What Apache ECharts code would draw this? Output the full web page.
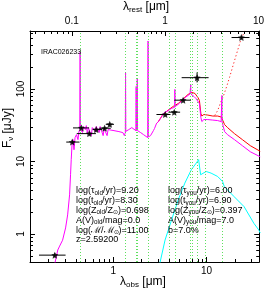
<!DOCTYPE html>
<html><head><meta charset="utf-8">
<script src="https://cdn.jsdelivr.net/npm/echarts@6/dist/echarts.min.js"></script>
<style>html,body{margin:0;padding:0;background:#fff}#c{width:267px;height:290px}</style>
</head><body><div id="c"></div>
<script>
// ---------- data ----------
const redshift = 2.592;
const obsRange = [0.128, 36.6];     // observed wavelength axis (micron)
const fluxRange = [0.41, 630];      // F_nu axis (microJy)
const obsMinorTicks = [0.2,0.3,0.4,0.5,0.6,0.7,0.8,0.9,2,3,4,5,6,7,8,9,20,30];
const restMinorTicks = [0.04,0.05,0.06,0.07,0.08,0.09,0.2,0.3,0.4,0.5,0.6,0.7,0.8,0.9,2,3,4,5,6,7,8,9];
const fluxMinorTicks = [0.5,0.6,0.7,0.8,0.9,2,3,4,5,6,7,8,9,20,30,40,50,60,70,80,90,200,300,400,500,600];

// emission-line markers (observed micron)
const lineMarkers = [0.441,1.353,1.76,1.81,2.358,3.953,4.571,6.755,7.06,7.87,9.57,14.59];

// old stellar population (magenta) [lambda_obs, F_nu]
const oldPopulation = [[0.233,0.36],[0.254,0.60],[0.266,0.68],[0.286,0.82],[0.308,1.21],[0.324,1.83],[0.340,3.46],[0.348,6.55],[0.354,10.6],[0.361,17.0],[0.370,20.0],[0.379,14.5],[0.389,21.3],[0.403,23.4],[0.418,20.0],[0.428,25.8],[0.438,27.5],[0.441,320],[0.443,28.0],[0.455,29.3],[0.467,25.0],[0.478,30.3],[0.502,27.5],[0.514,31.2],[0.527,24.2],[0.540,29.3],[0.567,30.3],[0.581,22.7],[0.595,29.3],[0.625,31.2],[0.640,25.8],[0.656,30.3],[0.689,29.3],[0.706,25.0],[0.723,30.3],[0.759,29.3],[0.778,22.7],[0.797,28.3],[0.837,27.5],[0.858,22.7],[0.879,27.5],[0.923,26.6],[1.017,26.6],[1.149,25.8],[1.266,25.0],[1.314,22.7],[1.345,25.0],[1.353,169],[1.362,26.0],[1.379,26.6],[1.466,27.5],[1.577,29.3],[1.656,27.5],[1.745,26.6],[1.758,108],[1.770,26.6],[1.798,26.6],[1.808,140],[1.820,26.6],[1.848,26.6],[1.963,25.0],[2.112,23.4],[2.218,22.7],[2.338,21.3],[2.358,459],[2.372,21.8],[2.415,22.0],[2.506,22.7],[2.689,26.6],[2.763,28.4],[2.900,33.3],[3.045,35.5],[3.198,39.0],[3.357,42.9],[3.524,47.3],[3.70,48.8],[3.88,50.4],[3.95,52.0],[4.18,53.7],[4.39,54.9],[4.55,56.0],[4.57,98.5],[4.60,57.0],[4.72,59.0],[5.08,62.9],[5.47,69.3],[5.88,76.2],[6.32,81.3],[6.64,85.3],[6.74,85.0],[6.755,115],[6.78,85.0],[6.97,84.0],[7.32,78.7],[7.69,73.8],[8.07,69.3],[8.37,62.9],[8.68,40.3],[8.89,35.5],[9.34,37.8],[10.30,37.8],[11.63,37.2],[13.14,36.6],[14.30,35.5],[14.55,35.3],[14.59,81.3],[14.65,35.0],[14.84,34.4],[15.58,25.8],[16.76,23.4],[19.87,20.0],[24.16,16.5],[29.4,13.6],[37.5,11.6]];

// total model (red)
const totalModel = [[2.9,33.3],[3.045,35.5],[3.357,43.5],[3.88,51.2],[4.39,57.5],[4.96,62.9],[5.60,72.6],[6.32,84.0],[6.97,89.5],[7.50,86.7],[8.07,76.2],[8.37,69.3],[8.68,45.8],[8.89,42.3],[9.34,44.4],[10.30,43.6],[11.63,42.3],[13.14,42.3],[14.4,40.9],[15.58,32.2],[16.76,29.3],[19.87,24.2],[24.16,20.0],[29.4,16.5],[37.5,13.8]];

// total model with dust emission (red dotted)
const dustModel = [[12.2,43.0],[13.14,50.4],[14.14,65.0],[15.2,81.3],[16.4,108],[17.6,144],[18.95,199],[20.4,273],[22.0,376],[23.0,455],[24.2,533],[25.3,607],[26.0,680]];

// young population (cyan)
const youngPopulation = [[3.12,0.37],[3.585,0.823],[4.21,1.557],[4.96,2.95],[5.84,5.02],[6.85,7.67],[7.74,9.50],[8.21,10.6],[8.62,6.55],[8.89,6.20],[9.88,7.27],[11.16,6.90],[13.14,6.20],[14.84,5.28],[15.46,4.51],[19.7,3.27],[25.2,2.38],[32.1,1.40],[36.3,1.13],[37.5,1.03]];

// photometry: [lambda, F, lambda_lo, lambda_hi, F_lo, F_hi]
const photometry = [
  [0.236,0.51,0.160,0.308,0.48,0.54],
  [0.363,18.5,0.313,0.434,17.5,19.5],
  [0.455,29.0,0.37,0.55,28.0,30.0],
  [0.553,24.2,0.406,0.651,23.2,25.2],
  [0.656,27.5,0.60,0.76,26.5,28.5],
  [0.807,28.7,0.706,0.94,27.7,29.7],
  [0.916,32.5,0.83,1.017,31.0,34.0],
  [3.60,44.4,2.9,4.1,43.0,46.0],
  [4.50,47.8,3.9,5.2,46.0,49.5],
  [5.6,70.0,4.5,6.8,67.0,73.0],
  [7.9,143,5.4,10.5,123,169],
  [23.6,512,18.5,28.8,490,535]
];

const objectName = 'IRAC026233';
const oldParams = ['{n|log(τ}{s|old}{n|/yr)=9.20}','{n|log(t}{s|old}{n|/yr)=8.30}','{n|log(Z}{s|old}{n|/Z}{s|⊙}{n|)=0.698}','{n|A(V)}{s|old}{n|/mag=0.0}','{n|log(ℳ/ℳ}{s|⊙}{n|)=11.00}','{n|z=2.59200}'];
const youngParams = ['{n|log(τ}{s|you}{n|/yr)=6.00}','{n|log(t}{s|you}{n|/yr)=6.90}','{n|log(Z}{s|you}{n|/Z}{s|⊙}{n|)=0.397}','{n|A(V)}{s|you}{n|/mag=7.0}','{n|b=7.0%}'];

// ---------- chart ----------
const FONT = '"Liberation Sans", Arial, Helvetica, sans-serif';
const chart = echarts.init(document.getElementById('c'));
function powLabel(v){
  const l = Math.log10(v);
  if (Math.abs(l - Math.round(l)) > 1e-6) return '';
  const p = Math.round(l);
  return p < 0 ? (Math.pow(10,p)).toFixed(-p) : String(Math.pow(10,p));
}
const axisCommon = {
  type:'log', logBase:10,
  axisLine:{show:true, onZero:false, lineStyle:{color:'#000', width:1}},
  axisTick:{show:true, inside:true, length:5, lineStyle:{color:'#000', width:1}},
  splitLine:{show:false}, minorTick:{show:false}
};
const labelStyle = {color:'#000', fontSize:10, fontFamily:FONT, formatter:powLabel};

chart.setOption({
  animation:false,
  backgroundColor:'#fff',
  grid:{left:30, right:5, top:31, bottom:28, containLabel:false},
  xAxis:[
    Object.assign({}, axisCommon, {position:'bottom', min:obsRange[0], max:obsRange[1], axisLabel:Object.assign({}, labelStyle, {margin:4})}),
    Object.assign({}, axisCommon, {position:'top', min:obsRange[0]/(1+redshift), max:obsRange[1]/(1+redshift), axisLabel:Object.assign({}, labelStyle, {margin:5})})
  ],
  yAxis:[
    Object.assign({}, axisCommon, {position:'left', min:fluxRange[0], max:fluxRange[1], axisLabel:Object.assign({}, labelStyle, {rotate:90, margin:4})}),
    Object.assign({}, axisCommon, {position:'right', min:fluxRange[0], max:fluxRange[1], axisLabel:{show:false}})
  ],
  series:[
    {type:'line', data:[[1,1]], symbol:'none', lineStyle:{opacity:0}, z:1, silent:true,
     markLine:{silent:true, symbol:['none','none'], label:{show:false}, animation:false,
       lineStyle:{type:[1,2], color:'#5ee05e', width:1},
       data: lineMarkers.map(v => ({xAxis:v}))}},
    {type:'line', data:youngPopulation, symbol:'none', lineStyle:{color:'#00ffff', width:1}, z:2},
    {type:'line', data:dustModel, symbol:'none', lineStyle:{color:'#ff2a2a', width:1, type:[1.3,2.4]}, z:2},
    {type:'line', data:totalModel, symbol:'none', lineStyle:{color:'#ff0000', width:1}, z:3},
    {type:'line', data:oldPopulation, symbol:'none', lineStyle:{color:'#ff00ff', width:1}, z:4},
    {type:'custom', data:photometry, encode:{x:0, y:1}, z:5,
     renderItem:(params, api) => {
       const x = api.value(0), y = api.value(1);
       const a = api.coord([api.value(2), y]), b = api.coord([api.value(3), y]);
       const c = api.coord([x, api.value(4)]), d = api.coord([x, api.value(5)]);
       return {type:'group', children:[
         {type:'line', shape:{x1:a[0],y1:a[1],x2:b[0],y2:b[1]}, style:{stroke:'#000', lineWidth:1}},
         {type:'line', shape:{x1:c[0],y1:c[1],x2:d[0],y2:d[1]}, style:{stroke:'#000', lineWidth:1}}
       ]};
     }},
    {type:'scatter', data:photometry.map(p => [p[0], p[1]]), z:6,
     symbol:'path://M0,-10 L2.9,-4 L9.5,-3.1 L4.7,1.5 L5.9,8.1 L0,5 L-5.9,8.1 L-4.7,1.5 L-9.5,-3.1 L-2.9,-4 Z',
     symbolSize:7, itemStyle:{color:'#000'}}
  ]
});

// minor ticks and texts
const g = [];
const xl = chart.convertToPixel({xAxisIndex:0}, obsRange[0]);
const xr = chart.convertToPixel({xAxisIndex:0}, obsRange[1]);
const yb = chart.convertToPixel({yAxisIndex:0}, fluxRange[0]);
const yt = chart.convertToPixel({yAxisIndex:0}, fluxRange[1]);
function tick(x1,y1,x2,y2){ g.push({type:'line', silent:true, shape:{x1,y1,x2,y2}, style:{stroke:'#000', lineWidth:1}, z:10}); }
obsMinorTicks.forEach(v => { const p = Math.round(chart.convertToPixel({xAxisIndex:0}, v)) + 0.5; tick(p, yb, p, yb-3); });
restMinorTicks.forEach(v => { const p = Math.round(chart.convertToPixel({xAxisIndex:1}, v)) + 0.5; tick(p, yt, p, yt+3); });
fluxMinorTicks.forEach(v => { const p = Math.round(chart.convertToPixel({yAxisIndex:0}, v)) + 0.5; tick(xl, p, xl+3, p); tick(xr, p, xr-3, p); });

const richAnn = {n:{fontSize:9, fontFamily:FONT, fill:'#000', lineHeight:10}, s:{fontSize:6.3, fontFamily:FONT, fill:'#000', lineHeight:5, verticalAlign:'bottom'}};
const richName = {n:{fontSize:12, fontFamily:FONT, fill:'#000', lineHeight:13}, s:{fontSize:8, fontFamily:FONT, fill:'#000', lineHeight:7, verticalAlign:'bottom'}};
function txt(x, y, text, rich, align, rot){
  g.push({type:'text', x, y, rotation:rot||0, silent:true, z:10,
    style:{text, rich, align:align||'left', verticalAlign:'middle', fill:'#000', fontFamily:FONT}});
}
g.push({type:'text', x:41, y:52, silent:true, z:10, style:{text:objectName, fontSize:7, fontFamily:FONT, fill:'#000', verticalAlign:'middle'}});
oldParams.forEach((t,i) => txt(76, 191 + i*9.8, t, richAnn));
youngParams.forEach((t,i) => txt(168, 191 + i*9.8, t, richAnn));
txt(146, 7, '{n|λ}{s|rest}{n| [μm]}', richName, 'center');
txt(143, 282, '{n|λ}{s|obs}{n| [μm]}', richName, 'center');
txt(8, 128, '{n|F}{s|ν}{n| [μJy]}', richName, 'center', Math.PI/2);
chart.setOption({graphic: g});
</script>
</body></html>
